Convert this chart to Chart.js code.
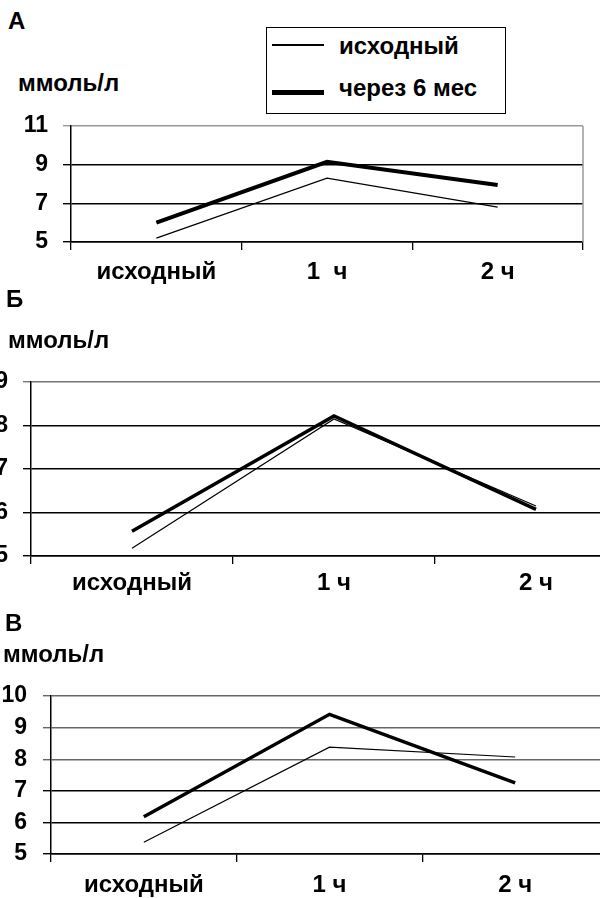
<!DOCTYPE html>
<html>
<head>
<meta charset="utf-8">
<script src="https://cdn.jsdelivr.net/npm/chart.js@4.4.1/dist/chart.umd.min.js"></script>
<style>
  html, body { margin:0; padding:0; background:#fff; width:600px; height:898px; overflow:hidden; position:relative; }
  .t { position:absolute; font-family:"Liberation Sans", Arial, sans-serif; font-weight:bold; font-size:24px; line-height:24px; color:#000; white-space:pre; }
  .cv { position:absolute; left:0; }
  #legend { position:absolute; left:266px; top:27px; width:238px; height:85px; border:1.5px solid #000; }
  .sw { position:absolute; left:5px; width:52px; background:#000; }
</style>
</head>
<body>
<div class="t" style="left:8px;top:9px;">А</div>
<div class="t" style="left:18px;top:71px;">ммоль/л</div>
<div id="legend"></div>
<canvas id="cA" class="cv" style="top:0px" width="600" height="290"></canvas>

<div class="t" style="left:6px;top:287px;">Б</div>
<div class="t" style="left:8px;top:328px;">ммоль/л</div>
<canvas id="cB" class="cv" style="top:290px" width="650" height="320"></canvas>

<div class="t" style="left:5px;top:611px;">В</div>
<div class="t" style="left:3px;top:642px;">ммоль/л</div>
<canvas id="cC" class="cv" style="top:610px" width="650" height="288"></canvas>

<script>
// ---- data ----
const seriesNames = ["исходный", "через 6 мес"];
const categoriesA = ["исходный", "1  ч", "2 ч"];
const categoriesB = ["исходный", "1 ч", "2 ч"];
const categoriesC = ["исходный", "1 ч", "2 ч"];
const baselineA = [5.2, 8.3, 6.8];
const sixMonthA = [6.0, 9.15, 7.95];
const baselineB = [5.18, 8.15, 6.15];
const sixMonthB = [5.57, 8.22, 6.07];
const baselineC = [5.37, 8.38, 8.07];
const sixMonthC = [6.18, 9.42, 7.25];
const yTicksA = [5, 7, 9, 11];
const yTicksB = [5, 6, 7, 8, 9];
const yTicksC = [5, 6, 7, 8, 9, 10];

// ---- legend (HTML) ----
const lg = document.getElementById('legend');
[[seriesNames[0], 17, 1.3, 6], [seriesNames[1], 64, 5, 48]].forEach(([name, ly, lw, ty]) => {
  const s = document.createElement('div');
  s.className = 'sw';
  s.style.top = (ly - lw / 2) + 'px';
  s.style.height = lw + 'px';
  lg.appendChild(s);
  const t = document.createElement('div');
  t.className = 't';
  t.style.left = '72px';
  t.style.top = ty + 'px';
  t.textContent = name;
  lg.appendChild(t);
});

Chart.defaults.font.family = '"Liberation Sans", Arial, sans-serif';
Chart.defaults.color = '#000';

const rightBorder = {
  id: 'rightBorder',
  afterDraw(chart, args, opts) {
    if (!opts || !opts.show) return;
    const a = chart.chartArea, c = chart.ctx;
    c.save();
    c.strokeStyle = '#999';
    c.lineWidth = 1.5;
    c.beginPath();
    c.moveTo(a.right, a.top);
    c.lineTo(a.right, a.bottom);
    c.stroke();
    c.restore();
  }
};

function makeChart(id, cats, base, six, ticks, o) {
  const ymin = ticks[0], ymax = ticks[ticks.length - 1];
  return new Chart(document.getElementById(id), {
    type: 'line',
    data: {
      labels: cats,
      datasets: [
        { label: seriesNames[0], data: base, borderColor: '#000', borderWidth: o.thin, pointRadius: 0, tension: 0, fill: false },
        { label: seriesNames[1], data: six, borderColor: '#000', borderWidth: o.thick, pointRadius: 0, tension: 0, fill: false }
      ]
    },
    options: {
      responsive: false,
      animation: false,
      devicePixelRatio: 1,
      layout: { padding: { top: o.top, right: o.right, left: 0, bottom: 0 } },
      plugins: { legend: { display: false }, tooltip: { enabled: false }, rightBorder: { show: o.rb } },
      scales: {
        x: {
          offset: true,
          grid: { offset: true, drawOnChartArea: false, drawTicks: true, tickLength: 8, color: '#000', lineWidth: 1.3 },
          border: { color: '#000', width: 1.5 },
          ticks: { font: { size: 24, weight: 'bold' }, color: '#000', padding: o.xpad, maxRotation: 0, autoSkip: false },
          afterFit: s => { s.height = o.xh; }
        },
        y: {
          min: ymin, max: ymax,
          afterBuildTicks: s => { s.ticks = ticks.map(v => ({ value: v })); },
          grid: { color: ctx => (o.gridColor(ctx.tick ? ctx.tick.value : 0)), lineWidth: 1.4, tickLength: 8, drawTicks: true },
          border: { color: '#000', width: 1.5 },
          ticks: { font: { size: 23, weight: 'bold' }, color: '#000', padding: o.ypad },
          afterFit: s => { s.width = o.yw; }
        }
      }
    },
    plugins: [rightBorder]
  });
}

makeChart('cA', categoriesA, baselineA, sixMonthA, yTicksA,
  { thin: 1.2, thick: 4, top: 126, right: 17, xh: 48, yw: 71, xpad: 8, ypad: 15, rb: true,
    gridColor: v => v === 11 ? '#999' : '#000' });
makeChart('cB', categoriesB, baselineB, sixMonthB, yTicksB,
  { thin: 1.2, thick: 3.5, top: 92, right: 13, xh: 54, yw: 31, xpad: 5, ypad: 15, rb: false,
    gridColor: v => v === 9 ? '#777' : '#000' });
makeChart('cC', categoriesC, baselineC, sixMonthC, yTicksC,
  { thin: 1.2, thick: 3.5, top: 86, right: 42, xh: 44, yw: 51, xpad: 9, ypad: 16, rb: false,
    gridColor: v => v >= 8 ? '#666' : '#000' });
</script>
</body>
</html>
